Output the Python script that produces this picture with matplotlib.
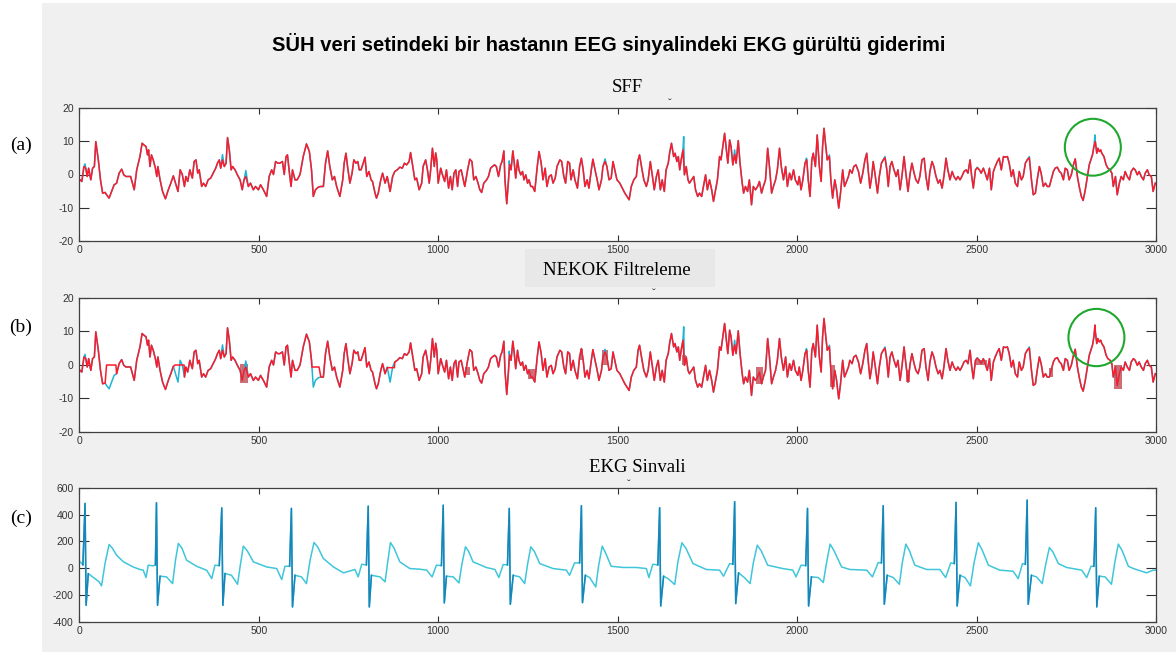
import numpy as np
import matplotlib.pyplot as plt
from matplotlib.patches import Rectangle, Ellipse

plt.rcParams['font.family'] = ['Liberation Sans', 'DejaVu Sans']
plt.rcParams['axes.unicode_minus'] = False

# EEG trace (filtered), samples 0-3000, amplitude in uV
eeg_part1 = [
    (2, -1.6), (7, -2.1), (13, 2.4), (18, 1.9), (22, -0.6), (26, 1.9), (32, -1.6), (37, 1.9), (42, 2.4),
    (46, 9.9), (53, 4.4), (59, -1.6), (65, -5.6), (72, -5.4), (76, -6.1), (83, -7.1), (90, -5.1), (97, -3.1),
    (104, -2.6), (111, 0.4), (118, 1.6), (124, -0.1), (130, -0.6), (137, -0.6), (143, -0.6), (153, -4.6),
    (160, 1.4), (169, 5.4), (175, 9.4), (180, 8.9), (186, 8.4), (190, 5.9), (193, 7.4), (197, 2.4), (201, 5.9),
    (206, 4.4), (212, 1.9), (216, -0.6), (219, 2.4), (225, -1.6), (232, -5.1), (240, -7.3), (248, -4.6),
    (255, -2.6), (262, -0.4), (268, -2.6), (275, -5.1), (281, 1.4), (287, 0.0), (293, -3.6), (297, -0.6),
    (302, -2.1), (308, 1.4), (315, -1.1), (320, 3.9), (325, 4.4), (330, 0.4), (334, 1.4), (341, -3.6),
    (346, -2.6), (352, -3.6), (359, -1.6), (366, -1.1), (373, 0.4), (380, 1.9), (385, 3.4), (390, 4.4),
    (394, 1.9), (399, 4.4), (404, 2.4), (409, 3.4), (413, 11.1), (418, 7.4), (423, 1.4), (427, 2.4), (434, 1.4),
    (440, 0.0), (448, -1.6), (454, -4.6), (459, -1.6), (464, -0.6), (471, -3.6), (477, -2.6), (485, -4.6),
    (491, -3.6), (499, -4.6), (505, -3.1), (513, -4.6), (522, -6.6), (529, -0.6), (536, 1.4), (541, 0.0),
    (547, 3.9), (553, 3.4), (559, 3.4), (566, 3.9), (571, 0.0), (576, 5.4), (580, 5.9), (585, 0.9), (590, -3.6),
    (594, 1.4), (601, -1.6), (607, -1.6), (615, 0.0), (624, 5.4), (633, 9.2), (641, 6.9), (647, 1.4), (652, -6.6),
    (658, -4.6), (666, -3.8), (673, -3.6), (680, -3.6), (686, 3.4), (692, 7.1), (698, 2.4), (705, -1.6),
    (711, -0.6), (717, -3.6), (726, -6.6), (734, -1.6), (738, 3.4), (743, 6.4), (748, 1.9), (754, -2.6),
    (760, 0.4), (765, 4.4), (771, 3.4), (776, 3.9), (780, 1.4), (785, 1.4), (791, 3.4), (796, 5.2), (801, -0.6),
    (807, 0.9), (813, -1.6), (817, -2.1), (824, -5.6), (828, -7.1), (833, -5.6), (840, -1.6), (845, 0.4),
    (852, -2.6), (858, -0.6), (866, -5.1), (873, -0.6), (879, 0.9), (886, 1.4), (893, 2.2), (900, 1.9),
    (906, 3.4), (912, 2.9), (919, 3.9), (923, 6.6), (929, 2.4), (935, -1.6), (940, -1.1), (947, -4.6),
    (954, -2.6), (958, 2.4), (965, 4.4), (970, 1.4), (975, -2.6), (979, 1.4), (984, 7.9), (989, 2.4),
    (993, 6.5), (996, 4.4),
]
eeg_part2 = [
    (1000, -2.6), (1007, 1.9), (1012, -0.1), (1018, -2.1), (1023, 1.4), (1029, -4.1), (1034, -0.6),
    (1039, -4.6), (1044, 0.4), (1049, 1.4), (1054, -3.6), (1058, 0.9), (1064, 1.4), (1070, -1.6), (1074, -3.6),
    (1082, 1.4), (1088, 4.6), (1094, 3.9), (1099, -1.6), (1105, -0.6), (1111, -2.6), (1116, -4.6), (1121, -5.4),
    (1127, -2.6), (1135, -1.6), (1140, -0.6), (1146, 1.9), (1151, 2.4), (1157, 2.9), (1162, 2.4), (1168, -0.6),
    (1174, 2.9), (1178, 3.9), (1183, 7.1), (1186, -1.6), (1191, -8.8), (1196, -1.6), (1199, 3.0), (1203, 1.4),
    (1208, 7.1), (1212, 3.4), (1216, -1.1), (1221, 4.4), (1225, 1.4), (1230, -0.1), (1235, 0.9), (1239, -1.6),
    (1244, -0.1), (1249, -2.6), (1253, -1.6), (1258, -3.6), (1263, -3.6), (1269, -5.1), (1276, 2.4),
    (1281, 6.9), (1287, 3.4), (1292, -1.6), (1298, 1.9), (1303, -3.6), (1309, -0.6), (1315, -0.1),
    (1320, -2.6), (1326, -1.1), (1331, 2.4), (1339, 4.4), (1344, 3.9), (1350, -0.6), (1355, -2.6), (1361, 3.9),
    (1366, 3.4), (1370, -1.6), (1376, 1.4), (1381, -1.6), (1388, -4.1), (1394, 2.4), (1399, 4.9), (1404, 1.4),
    (1409, -3.6), (1415, -1.6), (1420, -4.1), (1426, 0.9), (1431, 4.6), (1437, 1.4), (1443, -1.6),
    (1448, -4.6), (1455, -1.6), (1459, 2.4), (1465, 3.9), (1470, 2.4), (1476, -1.6), (1482, -1.1), (1487, 3.9),
    (1492, 1.4), (1498, -1.6), (1506, -2.6), (1513, -4.1), (1520, -5.6), (1526, -6.6), (1532, -7.6),
    (1538, -3.6), (1545, -1.6), (1552, -0.6), (1557, 4.4), (1561, 5.9), (1568, 1.4), (1573, -1.6),
    (1580, -3.6), (1585, -1.6), (1591, 3.9), (1597, -0.6), (1602, -4.6), (1608, -0.6), (1613, 1.4),
    (1619, -4.6), (1624, -1.6), (1630, -5.1), (1635, 1.4), (1641, 3.4), (1645, 6.6), (1650, 9.4), (1656, 5.4),
    (1660, 6.4), (1665, 3.9), (1669, 5.4), (1673, 1.4), (1677, 4.4), (1682, 7.4), (1686, -0.1), (1691, 2.4),
    (1696, -1.6), (1700, -2.6), (1706, -1.6), (1712, -0.6), (1717, -4.6), (1723, -6.6), (1728, -5.6),
    (1734, -6.6), (1739, -3.6), (1745, -0.1), (1750, -4.6), (1756, -1.6), (1762, -4.6), (1767, -8.1),
    (1773, -4.6), (1778, -1.6), (1784, 5.4), (1788, 4.4), (1793, 8.4), (1798, 12.4), (1802, 8.4), (1807, 3.4),
    (1812, 10.4), (1816, 8.4), (1821, 2.9), (1826, 6.0), (1830, 3.4), (1836, 10.2), (1841, 3.4), (1847, -2.6),
    (1851, -5.6), (1856, -3.6), (1862, -5.1), (1867, -1.6), (1873, -9.1), (1878, -3.6), (1884, -4.6),
    (1890, -3.6), (1895, -2.1), (1901, -5.6), (1906, -3.6), (1912, -1.6), (1918, 7.9), (1923, 2.4),
    (1929, -5.6), (1934, -3.6), (1940, -1.6), (1945, 1.4), (1951, 7.9), (1956, 2.4), (1962, -1.6), (1968, 2.4),
    (1973, -3.6), (1979, 0.4), (1984, -1.6), (1990, 1.4), (1995, -1.6),
]
eeg_part3 = [
    (2002, -3.1), (2006, -0.6), (2011, -4.6), (2016, -1.6), (2022, 3.4), (2027, 4.4), (2031, -1.6),
    (2036, -6.6), (2041, 4.4), (2045, 6.4), (2051, 2.4), (2056, 11.9), (2062, 2.4), (2067, -2.1), (2071, 8.4),
    (2075, 13.9), (2080, 8.4), (2084, 4.4), (2090, 5.4), (2094, -1.6), (2099, -7.1), (2105, -1.6), (2110, -4.6),
    (2116, -10.1), (2121, -5.6), (2127, 1.4), (2132, -3.6), (2136, -2.6), (2143, -0.6), (2147, 1.4),
    (2153, 0.4), (2158, 2.4), (2164, 2.9), (2171, 0.9), (2177, -2.6), (2183, 0.4), (2189, 4.4), (2194, 6.4),
    (2198, 1.4), (2203, -4.1), (2208, -0.6), (2212, 3.9), (2218, -0.6), (2224, -5.6), (2229, -0.6),
    (2235, 3.4), (2240, 4.4), (2245, 5.0), (2250, 1.4), (2254, -3.6), (2259, 2.4), (2264, 3.9), (2270, 1.4),
    (2276, -0.6), (2281, 1.4), (2287, -4.6), (2292, -0.6), (2298, 5.4), (2303, 0.4), (2309, -5.1), (2315, 0.4),
    (2320, 3.4), (2326, 0.4), (2331, -1.6), (2337, -2.6), (2342, -0.6), (2348, 4.4), (2354, 4.9), (2359, -0.6),
    (2365, -4.6), (2370, 0.9), (2376, 3.9), (2381, 2.4), (2387, -0.6), (2393, -2.6), (2398, -1.6),
    (2404, -4.1), (2409, -0.6), (2415, 4.9), (2420, 1.4), (2426, -1.6), (2432, 0.9), (2437, -0.6),
    (2443, -1.6), (2448, -0.6), (2454, -1.6), (2459, -0.6), (2465, 0.9), (2471, 1.4), (2476, 0.4), (2482, 4.4),
    (2486, -0.1), (2491, -4.1), (2497, 1.4), (2502, 2.0), (2508, 1.4), (2513, 0.4), (2519, 1.9), (2524, 0.4),
    (2530, -1.6), (2536, 1.9), (2541, -4.6), (2547, 0.9), (2552, 2.4), (2558, 3.9), (2563, 4.9), (2569, 1.4),
    (2575, 5.4), (2580, 5.2), (2586, 5.4), (2591, 3.4), (2597, -0.6), (2602, 1.4), (2608, -2.6), (2614, -3.6),
    (2619, 0.9), (2625, -1.6), (2630, -0.6), (2636, 3.4), (2641, 4.4), (2647, 5.0), (2653, -1.6), (2658, -6.1),
    (2664, -5.6), (2669, -1.6), (2675, 2.4), (2680, 0.4), (2686, -3.6), (2692, -2.6), (2697, -3.6),
    (2703, -3.6), (2708, -1.6), (2714, 0.9), (2719, 1.9), (2725, 2.2), (2731, 0.9), (2736, 0.4), (2742, -1.6),
    (2747, 1.9), (2753, 1.4), (2758, -1.6), (2764, -0.1), (2770, 2.9), (2775, 4.7), (2781, -0.6), (2786, -3.6),
    (2792, -6.6), (2797, -7.8), (2803, -4.6), (2809, -0.6), (2814, 2.9), (2820, 4.9), (2823, 5.9), (2827, 8.4),
    (2831, 9.9), (2835, 6.4), (2838, 7.9), (2842, 6.9), (2846, 7.4), (2849, 6.4), (2855, 5.4), (2861, 2.9),
    (2866, 1.9), (2872, 1.4), (2877, 0.4), (2881, -3.6), (2887, -0.6), (2892, -6.1), (2898, -2.6), (2903, -0.6),
    (2909, -1.6), (2914, 0.9), (2920, -0.6), (2926, -1.6), (2931, 0.9), (2937, 1.9), (2942, 1.4), (2948, -0.1),
    (2953, 0.9), (2959, -0.6), (2965, -1.6), (2970, 0.4), (2976, 1.4), (2981, -0.1), (2987, -0.6),
    (2992, -5.1), (2998, -2.6),
]

# ECG contamination still present in the raw EEG (sample, uV)
raw_spikes = [(16, 3.2), (399, 6.0), (464, 1.2), (1198, 4.1), (1465, 4.7), (1684, 11.4), (1826, 7.4),
              (2026, 4.9), (2090, 5.9), (2245, 5.4), (2502, 2.2), (2647, 5.4), (2830, 11.9)]

# NEKOK output: held segments (start, end, level) and dense oscillation bands (start, end, low, high)
nekok_holds = [(76, 102, 0.0), (267, 292, 0.0), (648, 668, -0.6), (858, 878, -0.8)]
nekok_extra = [(2830, 11.9)]
nekok_bands = [(447, 470, -5.4, 0.4), (1074, 1088, -3.1, -0.6), (1250, 1269, -4.1, -1.1),
               (1394, 1403, 1.4, 4.9), (1457, 1472, 0.0, 4.4), (1678, 1690, 0.0, 3.0),
               (1886, 1904, -5.6, -0.6), (2092, 2106, -6.6, -0.1), (2304, 2314, -5.1, -1.6),
               (2495, 2528, 0.0, 1.4), (2702, 2714, -3.6, -1.0), (2882, 2904, -7.1, -0.1)]

# circled artefact: (centre sample, centre uV) in panels a and b
circle_a = (2824, 8.2)
circle_b = (2834, 8.2)

# ECG reference channel (sample, uV)
ecg_t = [0, 10, 16, 19, 25, 40, 55, 62, 72, 83, 92, 104, 123, 150, 169, 178, 186, 192, 206, 212,
         215, 218, 225, 243, 260, 268, 276, 286, 299, 327, 355, 369, 378, 390,
         397, 400, 406, 424, 441, 449, 457, 468, 485, 522, 550, 564, 573, 586,
         591, 594, 601, 619, 633, 643, 654, 664, 680, 708, 736, 768, 777, 787, 800,
         805, 808, 814, 838, 852, 859, 867, 877, 893, 921, 949, 968, 983, 995, 1009,
         1014, 1017, 1023, 1042, 1058, 1066, 1076, 1085, 1097, 1134, 1158, 1169, 1181, 1193,
         1198, 1201, 1209, 1227, 1241, 1249, 1258, 1268, 1283, 1320, 1357, 1366, 1380, 1394,
         1399, 1402, 1410, 1422, 1439, 1447, 1457, 1467, 1482, 1515, 1552, 1580, 1587, 1598, 1612,
         1617, 1620, 1628, 1640, 1659, 1668, 1679, 1690, 1710, 1747, 1784, 1795, 1812, 1821,
         1826, 1829, 1837, 1853, 1869, 1878, 1889, 1900, 1918, 1960, 1988, 1997, 2011, 2024,
         2029, 2032, 2040, 2059, 2073, 2082, 2092, 2103, 2124, 2147, 2194, 2210, 2226, 2235,
         2240, 2243, 2251, 2268, 2285, 2293, 2303, 2313, 2328, 2361, 2398, 2414, 2428, 2438,
         2443, 2446, 2454, 2468, 2483, 2493, 2505, 2515, 2533, 2565, 2602, 2616, 2628, 2636,
         2641, 2644, 2653, 2667, 2683, 2692, 2703, 2713, 2728, 2751, 2793, 2807, 2819, 2827,
         2832, 2835, 2842, 2858, 2876, 2885, 2895, 2906, 2923, 2937, 2974, 2992, 3000]
ecg_v = [55, 25, 483, -276, -40, -70, -100, -131, 40, 177, 150, 97, 48, 10, -9, -14, -69, 23, 18, 25,
         488, -276, -59, -64, -114, 60, 185, 150, 60, 15, -15, -77, 23, 20,
         450, -276, -39, -52, -119, 30, 165, 130, 48, 10, -2, -84, 15, 15,
         446, -288, -52, -64, -114, 60, 192, 160, 73, 10, -34, -9, -64, 30, 25,
         463, -288, -52, -64, -101, 40, 192, 150, 48, -2, -7, -14, -64, 23, 20,
         470, -258, -59, -64, -109, 30, 160, 125, 48, 6, -9, -69, 28, 25,
         446, -268, -52, -64, -114, 30, 160, 125, 35, -2, -14, -52, 40, 40,
         466, -256, -52, -69, -139, 20, 165, 110, 15, 6, 6, -2, -69, 30, 25,
         451, -281, -59, -76, -121, 50, 190, 150, 35, -9, -14, -59, 35, 30,
         496, -263, -34, -69, -114, 40, 172, 130, 23, -2, -14, -64, 23, 20,
         446, -281, -64, -69, -106, 40, 180, 130, 10, -9, -14, -64, 43, 40,
         466, -268, -52, -69, -119, 40, 180, 130, 23, -9, -9, -69, 40, 35,
         491, -281, -52, -69, -131, 40, 190, 140, 23, -14, -22, -77, 35, 30,
         508, -268, -52, -64, -114, 20, 155, 120, 35, 6, -14, -69, 15, 15,
         451, -288, -59, -64, -119, 40, 180, 130, 15, -2, -34, -14, -14]

RED = '#ff1a2b'
CYAN = '#1fb4d4'
ECG_CYAN = '#3fc6da'
ECG_DARK = '#1784ba'


def to_xy(points):
    keys = sorted(points)
    return np.array(keys, dtype=float), np.array([points[k] for k in keys])


base = dict(eeg_part1 + eeg_part2 + eeg_part3)
raw = dict(base)
raw.update(raw_spikes)

nekok = {t: v for t, v in base.items()
         if not any(t0 <= t <= t1 for t0, t1, _ in nekok_holds)}
for t0, t1, lev in nekok_holds:
    nekok[t0] = lev
    nekok[t1] = lev
nekok.update(nekok_extra)

fig = plt.figure(figsize=(11.76, 6.52), dpi=100)
fig.patch.set_facecolor('white')
fig.add_artist(Rectangle((42 / 1176, 0), 1, 1 - 3 / 652, transform=fig.transFigure,
                         facecolor='#f0f0f0', edgecolor='none', zorder=-10))
fig.add_artist(Rectangle((525 / 1176, 1 - 287 / 652), 190 / 1176, 38 / 652, transform=fig.transFigure,
                         facecolor='#e8e8e8', edgecolor='none', zorder=-5))


def make_axes(top, bottom):
    return fig.add_axes([79.3 / 1176, 1 - bottom / 652, 1076.7 / 1176, (bottom - top) / 652])


def style(ax, ylim, yticks):
    ax.set_facecolor('white')
    ax.set_xlim(0, 3000)
    ax.set_ylim(*ylim)
    ax.set_xticks(range(0, 3001, 500))
    ax.set_yticks(yticks)
    ax.tick_params(direction='in', top=True, right=True, labelsize=7.5,
                   color='#303030', labelcolor='#333333', width=0.8)
    ax.tick_params(axis='x', length=4, pad=3)
    ax.tick_params(axis='y', length=7.5, pad=4)
    for sp in ax.spines.values():
        sp.set_color('#404040')
        sp.set_linewidth(0.9)


ax_a = make_axes(108, 241)
ax_b = make_axes(298, 432)
ax_c = make_axes(487.7, 622)

rx, ry = to_xy(raw)
bx, by = to_xy(base)
nx, ny = to_xy(nekok)

# (a) SFF
ax_a.plot(rx, ry, color=CYAN, lw=1.1)
ax_a.plot(bx, by, color=RED, lw=1.1)
style(ax_a, (-20, 20), [-20, -10, 0, 10, 20])

# (b) NEKOK
ax_b.plot(rx, ry, color=CYAN, lw=1.1)
ax_b.plot(nx, ny, color=RED, lw=1.1)
for t0, t1, lo, hi in nekok_bands:
    ax_b.fill_between([t0, t1], lo, hi, color='#b0101a', lw=0, alpha=0.6)
style(ax_b, (-20, 20), [-20, -10, 0, 10, 20])

for ax, (cx, cy) in ((ax_a, circle_a), (ax_b, circle_b)):
    ax.add_patch(Ellipse((cx, cy), 156, 17.1, fill=False, edgecolor='#1fa82e', lw=1.5, zorder=5))

# (c) ECG, QRS strokes drawn darker
et = np.array(ecg_t, dtype=float)
ev = np.array(ecg_v, dtype=float)
ax_c.plot(et, ev, color=ECG_CYAN, lw=1.1)
for i in np.where(ev > 300)[0]:
    ax_c.plot(et[i - 1:i + 3], ev[i - 1:i + 3], color=ECG_DARK, lw=1.1)
style(ax_c, (-400, 600), [-400, -200, 0, 200, 400, 600])

fig.text(609 / 1176, 1 - 44 / 652, 'SÜH veri setindeki bir hastanın EEG sinyalindeki EKG gürültü giderimi',
         ha='center', va='center', fontsize=14.5, fontweight='bold', color='black')
serif = ['Liberation Serif', 'DejaVu Serif']
fig.text(627 / 1176, 1 - 87 / 652, 'SFF', ha='center', va='center', fontsize=13.5, family=serif)
fig.text(617 / 1176, 1 - 270 / 652, 'NEKOK Filtreleme', ha='center', va='center', fontsize=13.5, family=serif)
fig.text(637 / 1176, 1 - 468 / 652, 'EKG Sinvali', ha='center', va='center', fontsize=13.5, family=serif)
for mx, my in ((670, 104), (654, 294), (629, 485)):
    fig.text(mx / 1176, 1 - my / 652, 'ˇ', ha='center', va='center', fontsize=8, color='#303030')
for label, y in (('(a)', 145), ('(b)', 327), ('(c)', 518)):
    fig.text(21 / 1176, 1 - y / 652, label, ha='center', va='center', fontsize=14, family=serif)

fig.savefig('out.png', dpi=100)
